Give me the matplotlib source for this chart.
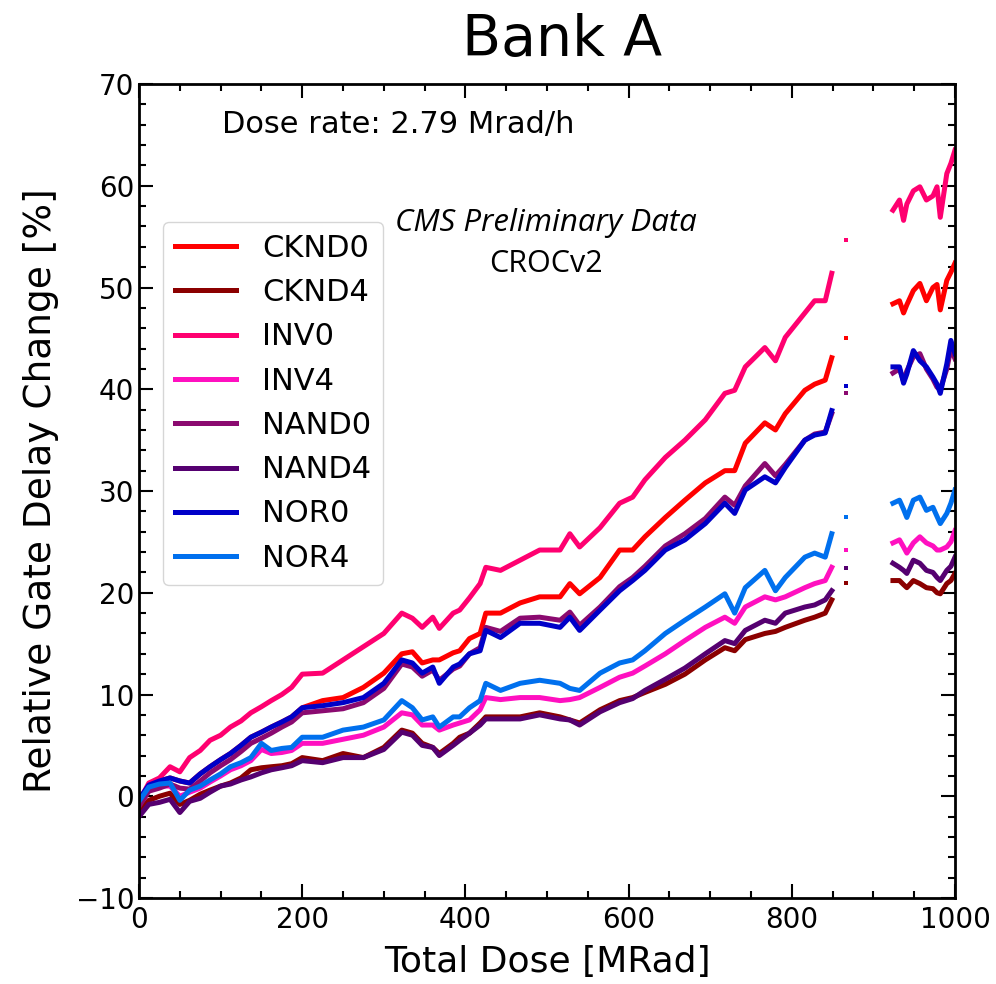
"""Bank A gate delay drift vs. total ionising dose (CROCv2 ring oscillators)."""
import matplotlib

matplotlib.use("Agg")
import matplotlib.pyplot as plt  # noqa: E402
from matplotlib.ticker import MultipleLocator  # noqa: E402

# --- dose grid, first run (MRad) ---
DOSE_A = [0, 12, 25, 38, 50, 62, 75, 87, 100, 112,
          125, 137, 150, 162, 175, 187, 200, 225, 250, 275,
          300, 322, 335, 347, 360, 368, 385, 393, 405, 418,
          425, 443, 467, 491, 516, 528, 540, 565, 589, 605,
          620, 645, 669, 694, 718, 730, 743, 767, 780, 792,
          816, 828, 841, 849]
# --- single readout in the gap ---
DOSE_GAP = [866]
# --- dose grid, second run ---
DOSE_B = [924, 932, 937, 941, 949, 957, 965, 973, 978, 982, 990, 995, 1000]

LABELS = ["CKND0", "CKND4", "INV0", "INV4", "NAND0", "NAND4", "NOR0", "NOR4"]
COLORS = ["#ff0000", "#8b0000", "#ff0070", "#ff10c0",
          "#8b0a70", "#550070", "#0000c8", "#0070ee"]

CKND0_A = [-0.8, 1.1, 1.5, 1.8, 1.5, 1.3, 2.2, 2.9, 3.6, 4.2,
           5.0, 5.8, 6.3, 6.8, 7.3, 7.8, 8.7, 9.4, 9.7, 10.7,
           12.1, 14.0, 14.2, 13.1, 13.4, 13.4, 14.1, 14.3, 15.5, 16.0,
           18.0, 18.0, 19.0, 19.6, 19.6, 20.9, 19.9, 21.5, 24.2, 24.2,
           25.5, 27.4, 29.1, 30.8, 32.0, 32.0, 34.7, 36.7, 36.0, 37.6,
           39.9, 40.5, 40.9, 43.1]
CKND4_A = [-1.5, -0.4, 0.0, 0.3, -0.8, -0.4, 0.2, 0.6, 1.0, 1.3,
           1.8, 2.6, 2.8, 2.9, 3.0, 3.2, 3.8, 3.5, 4.2, 3.8,
           4.8, 6.5, 6.2, 5.2, 4.8, 4.2, 5.2, 5.8, 6.2, 7.2,
           7.8, 7.8, 7.8, 8.2, 7.8, 7.5, 7.2, 8.5, 9.4, 9.7,
           10.2, 11.0, 12.0, 13.4, 14.6, 14.3, 15.4, 16.0, 16.2, 16.6,
           17.3, 17.6, 18.0, 19.3]
INV0_A = [-0.5, 1.3, 1.8, 2.9, 2.4, 3.8, 4.5, 5.5, 6.0, 6.8,
          7.4, 8.2, 8.8, 9.4, 10.0, 10.7, 12.0, 12.1, 13.4, 14.7,
          16.0, 18.0, 17.5, 16.6, 17.6, 16.5, 18.0, 18.3, 19.5, 20.9,
          22.5, 22.2, 23.2, 24.2, 24.2, 25.8, 24.5, 26.4, 28.8, 29.4,
          31.1, 33.3, 35.0, 37.0, 39.6, 39.9, 42.2, 44.1, 42.8, 45.1,
          47.5, 48.7, 48.7, 51.4]
INV4_A = [-0.8, 0.6, 1.0, 1.0, 0.0, 0.4, 0.8, 1.4, 2.0, 2.6,
          3.0, 3.5, 4.6, 4.2, 4.3, 4.5, 5.2, 5.2, 5.6, 6.0,
          6.8, 8.2, 8.0, 7.0, 7.0, 6.5, 7.0, 7.2, 7.5, 8.5,
          9.7, 9.5, 9.7, 9.7, 9.4, 9.5, 9.7, 10.7, 11.7, 12.1,
          12.8, 14.0, 15.3, 16.6, 17.6, 17.0, 18.6, 19.6, 19.3, 19.6,
          20.5, 20.9, 21.2, 22.5]
NAND0_A = [-1.0, 0.5, 0.8, 1.2, 0.8, 0.7, 1.5, 2.3, 3.0, 3.6,
           4.4, 5.2, 5.7, 6.2, 6.8, 7.3, 8.2, 8.4, 8.6, 9.2,
           10.6, 13.0, 12.7, 11.8, 12.4, 11.4, 12.5, 12.8, 14.0, 14.6,
           16.6, 16.2, 17.5, 17.6, 17.3, 18.1, 16.8, 18.6, 20.6, 21.5,
           22.6, 24.6, 25.8, 27.3, 29.4, 28.6, 30.5, 32.7, 31.5, 32.6,
           35.0, 35.6, 35.8, 37.6]
NAND4_A = [-2.0, -0.8, -0.6, -0.3, -1.6, -0.5, -0.2, 0.4, 1.0, 1.2,
           1.6, 1.9, 2.3, 2.6, 2.8, 3.0, 3.5, 3.3, 3.8, 3.8,
           4.6, 6.3, 6.0, 5.0, 4.8, 4.0, 5.0, 5.5, 6.2, 7.0,
           7.6, 7.6, 7.6, 8.0, 7.6, 7.5, 7.0, 8.3, 9.2, 9.6,
           10.4, 11.5, 12.6, 14.0, 15.3, 15.0, 16.3, 17.3, 17.0, 18.0,
           18.6, 18.8, 19.3, 20.2]
NOR0_A = [-0.3, 1.1, 1.5, 1.8, 1.5, 1.3, 2.2, 2.9, 3.6, 4.2,
          5.0, 5.8, 6.3, 6.8, 7.3, 7.8, 8.7, 8.9, 9.2, 9.7,
          11.1, 13.4, 13.1, 12.1, 12.7, 11.1, 12.7, 13.0, 14.0, 14.3,
          16.3, 15.6, 17.0, 17.0, 16.6, 17.6, 16.3, 18.3, 20.2, 21.2,
          22.2, 24.2, 25.2, 26.8, 28.8, 27.8, 30.1, 31.4, 30.8, 32.3,
          35.0, 35.5, 35.7, 37.9]
NOR4_A = [-0.5, 0.9, 1.2, 1.3, -0.4, 0.6, 1.0, 1.6, 2.2, 2.9,
          3.3, 3.8, 5.2, 4.5, 4.7, 4.8, 5.8, 5.8, 6.5, 6.8,
          7.5, 9.4, 8.7, 7.5, 7.8, 6.8, 7.8, 7.8, 8.7, 9.4,
          11.1, 10.4, 11.1, 11.4, 11.1, 10.6, 10.4, 12.1, 13.1, 13.4,
          14.3, 16.0, 17.3, 18.6, 19.9, 18.0, 20.5, 22.2, 20.2, 21.5,
          23.5, 23.9, 23.5, 25.8]

GAP = [45.0, 21.0, 54.7, 24.2, 39.6, 22.4, 40.3, 27.4]  # same order as LABELS

CKND0_B = [48.4, 48.7, 47.5, 48.3, 49.7, 50.4, 48.7, 50.0, 50.3, 47.8, 50.7, 51.5, 52.4]
CKND4_B = [21.2, 21.2, 20.8, 20.5, 21.2, 20.9, 20.5, 20.4, 20.0, 19.9, 20.9, 21.2, 21.9]
INV0_B = [57.6, 58.6, 56.6, 58.2, 59.5, 59.9, 58.6, 59.0, 59.9, 56.9, 61.2, 62.2, 63.5]
INV4_B = [24.9, 25.2, 24.5, 23.9, 24.9, 25.5, 24.9, 24.6, 24.2, 24.2, 24.5, 25.0, 26.1]
NAND0_B = [41.6, 42.0, 40.8, 41.8, 43.2, 43.5, 42.0, 41.0, 40.2, 40.0, 42.0, 44.0, 43.0]
NAND4_B = [22.9, 22.5, 22.2, 21.9, 23.2, 22.9, 22.2, 22.0, 21.5, 21.2, 22.2, 22.6, 23.5]
NOR0_B = [42.2, 42.2, 40.6, 41.5, 43.8, 42.8, 42.2, 41.2, 40.5, 39.6, 42.5, 44.8, 43.5]
NOR4_B = [28.8, 29.1, 28.2, 27.4, 29.1, 29.4, 28.1, 28.4, 27.5, 26.8, 27.8, 28.8, 30.1]

RUN_A = [CKND0_A, CKND4_A, INV0_A, INV4_A, NAND0_A, NAND4_A, NOR0_A, NOR4_A]
RUN_B = [CKND0_B, CKND4_B, INV0_B, INV4_B, NAND0_B, NAND4_B, NOR0_B, NOR4_B]

LW = 3.6


def _style_axes(ax):
    ax.set_xlim(0, 1000)
    ax.set_ylim(-10, 70)
    ax.xaxis.set_major_locator(MultipleLocator(200))
    ax.xaxis.set_minor_locator(MultipleLocator(50))
    ax.yaxis.set_major_locator(MultipleLocator(10))
    ax.yaxis.set_minor_locator(MultipleLocator(2))
    ax.tick_params(which="both", direction="in", top=True, right=True,
                   width=1.5, labelsize=20)
    ax.tick_params(which="major", length=10)
    ax.tick_params(which="minor", length=5)
    ax.tick_params(axis="x", pad=6)
    for sp in ax.spines.values():
        sp.set_linewidth(2)


def main():
    fig = plt.figure(figsize=(9.96, 9.84), dpi=100)
    ax = fig.add_axes([0.1396, 0.0874, 0.8192, 0.8272])

    for lab, col, ya, yg, yb in zip(LABELS, COLORS, RUN_A, GAP, RUN_B):
        ax.plot(DOSE_A, ya, color=col, lw=LW, label=lab)
        ax.plot(DOSE_GAP, [yg], color=col, ls="none", marker="s", ms=3.5, mew=0)
        ax.plot(DOSE_B, yb, color=col, lw=LW)

    _style_axes(ax)
    ax.set_xlabel("Total Dose [MRad]", fontsize=26, labelpad=8)
    ax.set_ylabel("Relative Gate Delay Change [%]", fontsize=27, labelpad=12)

    ax.text(0.102, 0.950, "Dose rate: 2.79 Mrad/h", transform=ax.transAxes,
            fontsize=22, ha="left", va="center")
    ax.text(0.499, 0.829, "CMS Preliminary Data", transform=ax.transAxes,
            fontsize=22.5, ha="center", va="center", style="italic",
            family=["Open Sans", "DejaVu Sans"])
    ax.text(0.499, 0.779, "CROCv2", transform=ax.transAxes,
            fontsize=22, ha="center", va="center",
            family=["Open Sans", "DejaVu Sans"])

    ax.legend(loc="upper left", bbox_to_anchor=(0.029, 0.831),
              borderaxespad=0, fontsize=22, handlelength=2.0,
              labelspacing=0.5, handletextpad=0.85)

    fig.text(0.564, 0.959, "Bank A", fontsize=41, ha="center", va="center")
    fig.savefig("out.png", dpi=100)
    plt.close(fig)


if __name__ == "__main__":
    main()
